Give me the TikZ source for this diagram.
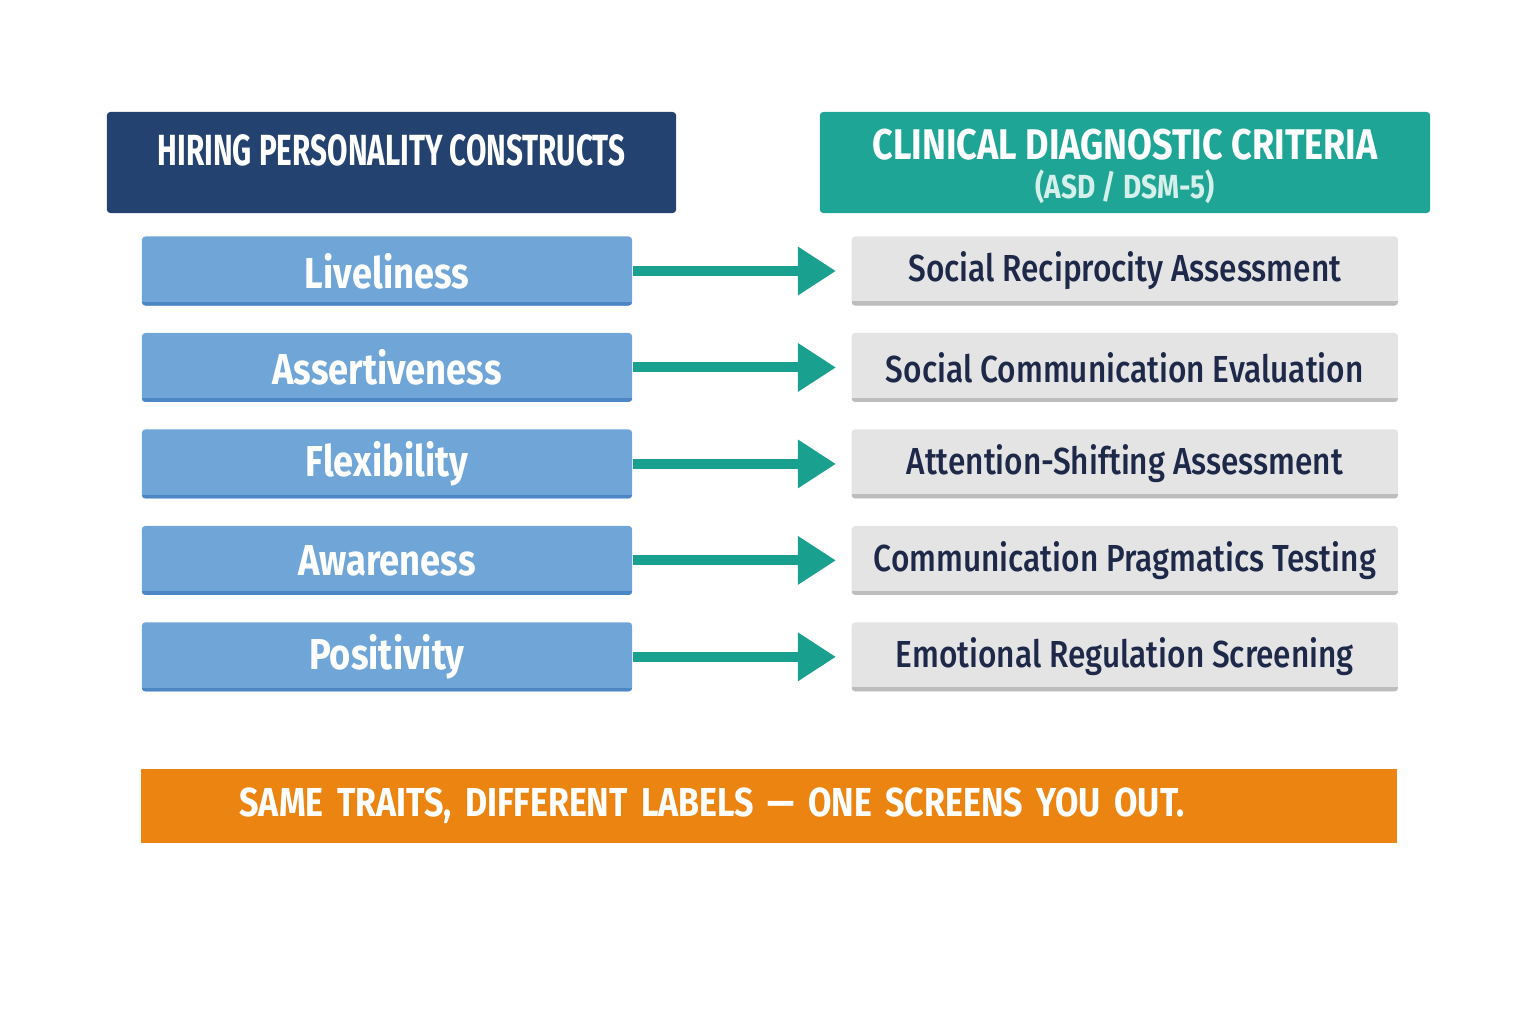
\documentclass[tikz,border=0pt]{standalone}
\usepackage{fontspec}
\setmainfont[FakeStretch=0.84]{Fira Sans}
\newfontfamily\narrowfont[FakeStretch=0.68]{Fira Sans}
\newfontfamily\critfont[FakeStretch=0.84]{Fira Sans Medium}
\usetikzlibrary{arrows.meta, positioning}

\definecolor{navyhead}{HTML}{24426F}
\definecolor{tealhead}{HTML}{1FA596}
\definecolor{paleteal}{HTML}{D5F0EA}
\definecolor{traitblue}{HTML}{6FA6D7}
\definecolor{traitedge}{HTML}{4C86C4}
\definecolor{critgray}{HTML}{E4E4E4}
\definecolor{critedge}{HTML}{BDBDBD}
\definecolor{inknavy}{HTML}{1E2848}
\definecolor{arrowteal}{HTML}{1AA08F}
\definecolor{bannerorange}{HTML}{EC8412}

\begin{document}
\begin{tikzpicture}[x=0.01cm, y=-0.01cm, node distance=0.26cm and 2.18cm,
        >={Triangle[length=0.38cm, width=0.46cm]},
        header/.style={rounded corners=1pt, minimum height=1.01cm, text=white,
            inner xsep=2pt, font=\bfseries\fontsize{12.2}{14}\selectfont},
        trait/.style={fill=traitblue, rounded corners=1pt, minimum width=4.9cm,
            minimum height=0.69cm, text=white, font=\bfseries\fontsize{12.3}{15}\selectfont,
            path picture={\draw[traitedge, line width=2pt]
                (path picture bounding box.south west) -- (path picture bounding box.south east);}},
        criterion/.style={fill=critgray, rounded corners=1pt, minimum width=5.46cm,
            minimum height=0.69cm, inner xsep=2pt, text=inknavy,
            font=\critfont\fontsize{10.7}{13}\selectfont,
            path picture={\draw[critedge, line width=2.5pt]
                (path picture bounding box.south west) -- (path picture bounding box.south east);}},
        link/.style={->, arrowteal, line width=0.1cm, shorten >=0.15cm}]

        \useasboundingbox (0,0) rectangle (1536,1024);

        % column headers
        \node (H1) [header, fill=navyhead, minimum width=5.69cm, text height=0.3cm,
            text depth=0.25cm, font=\narrowfont\bfseries\fontsize{12.4}{14}\selectfont]
            at (391.5,162.5) {HIRING PERSONALITY CONSTRUCTS};
        \node (H2) [header, fill=tealhead, minimum width=6.1cm, align=center,
            text height=0.72cm, text depth=0pt]
            at (1125,162.5) {CLINICAL DIAGNOSTIC CRITERIA\\[-3pt]
            {\color{paleteal}\fontsize{9.5}{11}\selectfont(ASD / DSM-5)}};

        % hiring side
        \node (L1) [trait] at (387,271) {Liveliness};
        \node (L2) [trait, below=of L1] {Assertiveness};
        \node (L3) [trait, below=of L2] {Flexibility};
        \node (L4) [trait, below=of L3] {Awareness};
        \node (L5) [trait, below=of L4] {Positivity};

        % clinical side
        \node (R1) [criterion, right=of L1] {Social Reciprocity Assessment};
        \node (R2) [criterion, right=of L2] {Social Communication Evaluation};
        \node (R3) [criterion, right=of L3] {Attention-Shifting Assessment};
        \node (R4) [criterion, right=of L4] {Communication Pragmatics Testing};
        \node (R5) [criterion, right=of L5] {Emotional Regulation Screening};

        \draw[link] (L1) -- (R1);
        \draw[link] (L2) -- (R2);
        \draw[link] (L3) -- (R3);
        \draw[link] (L4) -- (R4);
        \draw[link] (L5) -- (R5);

        % bottom banner
        \node (note) [fill=bannerorange, minimum height=0.74cm, inner xsep=0.99cm,
            text width=10.58cm, align=left, text=white,
            font=\bfseries\fontsize{11.5}{14}\selectfont] at (769,806)
            {SAME TRAITS, DIFFERENT LABELS — ONE SCREENS YOU OUT.};
    \end{tikzpicture}
\end{document}
